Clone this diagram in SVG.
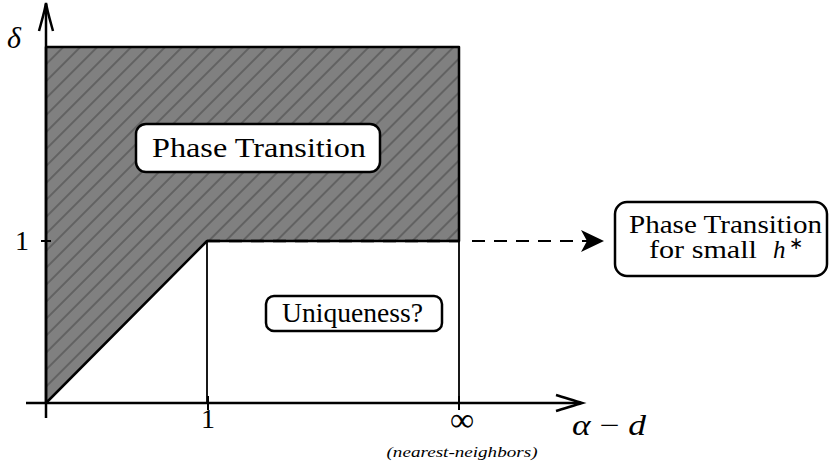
<svg xmlns="http://www.w3.org/2000/svg" width="829" height="470" viewBox="0 0 829 470">
<style>
.box{fill:#fff;stroke:#000;stroke-width:2.5}
.ax{stroke:#000;stroke-width:2.5;fill:none}
</style>
<defs>
<pattern id="hatch" patternUnits="userSpaceOnUse" width="12" height="12" patternTransform="rotate(-45)">
<rect width="12" height="12" fill="#808080"/>
<line x1="0" y1="6" x2="12" y2="6" stroke="#5a5a5a" stroke-width="1.6"/>
</pattern>
<marker id="stealth" viewBox="0 0 24 24" refX="22" refY="12" markerWidth="24" markerHeight="24" markerUnits="userSpaceOnUse" orient="auto">
<path d="M0,1 L23,12 L0,23 L6,12 Z" fill="#000"/>
</marker>
</defs>
<g id="region">
<polygon points="46,47 459,47 459,241 207,241 46,403" fill="url(#hatch)" stroke="#000" stroke-width="2.5" stroke-linejoin="round"/>
<line x1="207" y1="241" x2="207" y2="403" stroke="#000" stroke-width="1.8"/>
<line x1="459" y1="241" x2="459" y2="403" stroke="#000" stroke-width="1.8"/>
<line x1="207" y1="241" x2="459" y2="241" stroke="#000" stroke-width="2.5" stroke-dasharray="13 9"/>
</g>
<g id="axes" font-family="Liberation Serif">
<line class="ax" x1="46" y1="418" x2="46" y2="4"/>
<path class="ax" d="M39,31 C42,20 45,10 46,3 C47,10 50,20 53,31" stroke-width="2.2"/>
<line class="ax" x1="26" y1="403" x2="581" y2="403"/>
<path class="ax" d="M556,395 C566,398 575,401 582,403 C575,405 566,408 556,411" stroke-width="2.2"/>
<line x1="41" y1="241" x2="51" y2="241" stroke="#000" stroke-width="2"/>
<line x1="208" y1="396" x2="208" y2="410" stroke="#000" stroke-width="2"/>
<line x1="459" y1="396" x2="459" y2="410" stroke="#000" stroke-width="2"/>
<text font-family="Liberation Serif" font-style="italic" x="7" y="48" font-size="30">δ</text>
<text font-family="Liberation Serif" x="22" y="250" font-size="28" text-anchor="middle">1</text>
<text font-family="Liberation Serif" x="208" y="428" font-size="28" text-anchor="middle">1</text>
<text font-family="Liberation Serif" x="462" y="431" font-size="34" text-anchor="middle">∞</text>
<text font-family="Liberation Serif" x="572" y="435" font-size="29" textLength="74" lengthAdjust="spacingAndGlyphs"><tspan font-style="italic">α</tspan> − <tspan font-style="italic">d</tspan></text>
<text font-family="Liberation Serif" font-style="italic" x="462" y="457" font-size="14" text-anchor="middle" textLength="151" lengthAdjust="spacingAndGlyphs">(nearest-neighbors)</text>
</g>
<g id="connectors">
<line x1="472" y1="241" x2="603" y2="241" stroke="#000" stroke-width="2.2" stroke-dasharray="13 9" marker-end="url(#stealth)"/>
</g>
<g id="node-phase">
<rect class="box" x="136" y="124" width="244" height="48" rx="10"/>
<text font-family="Liberation Serif" x="259" y="157" font-size="28" text-anchor="middle" textLength="214" lengthAdjust="spacingAndGlyphs">Phase Transition</text>
</g>
<g id="node-unique">
<rect class="box" x="266" y="296" width="176" height="35" rx="8"/>
<text font-family="Liberation Serif" x="352.5" y="322" font-size="27" text-anchor="middle" textLength="141" lengthAdjust="spacingAndGlyphs">Uniqueness?</text>
</g>
<g id="node-small">
<rect class="box" x="615" y="202" width="212" height="74" rx="12"/>
<text font-family="Liberation Serif" x="725.5" y="233" font-size="25" text-anchor="middle" textLength="193" lengthAdjust="spacingAndGlyphs">Phase Transition</text>
<text font-family="Liberation Serif" x="649" y="258" font-size="25" textLength="108" lengthAdjust="spacingAndGlyphs">for small</text>
<text font-family="Liberation Serif" font-style="italic" x="773" y="258" font-size="25">h</text>
<text font-family="Liberation Serif" x="789" y="249" font-size="17">∗</text>
</g>
</svg>
